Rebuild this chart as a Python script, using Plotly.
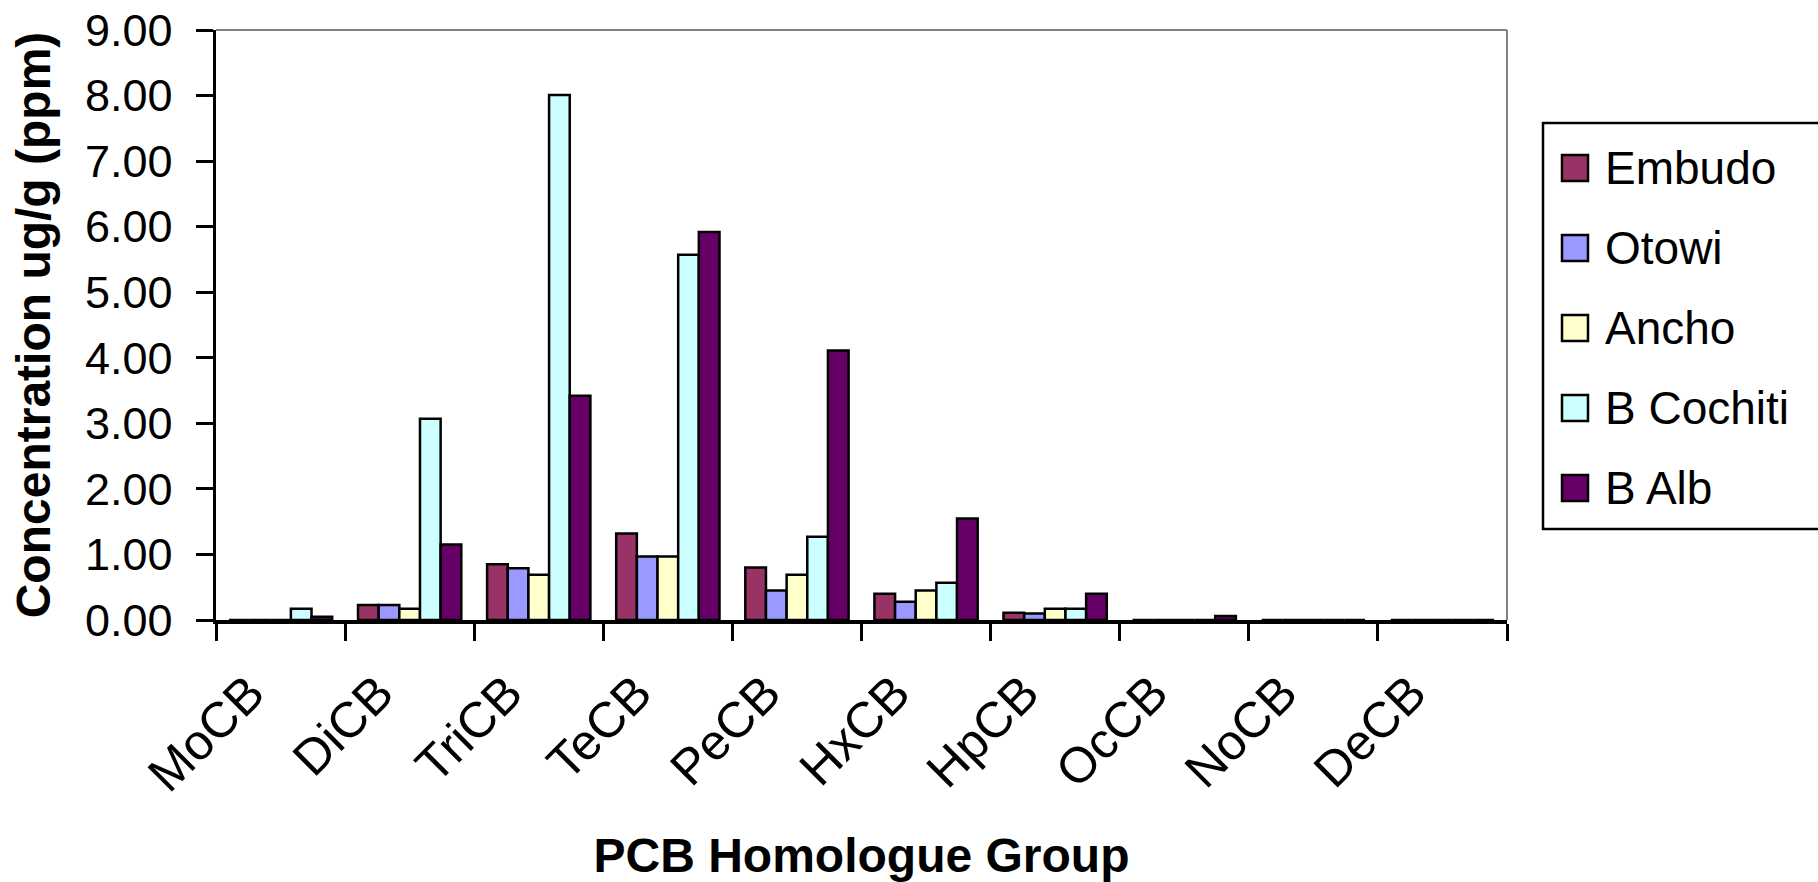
import plotly.graph_objects as go

categories = ["MoCB", "DiCB", "TriCB", "TeCB", "PeCB", "HxCB", "HpCB", "OcCB", "NoCB", "DeCB"]
series_names = ["Embudo", "Otowi", "Ancho", "B Cochiti", "B Alb"]
embudo = [0, 0.23, 0.85, 1.32, 0.80, 0.40, 0.11, 0, 0, 0]
otowi = [0, 0.23, 0.79, 0.97, 0.45, 0.28, 0.10, 0, 0, 0]
ancho = [0, 0.17, 0.69, 0.97, 0.69, 0.45, 0.17, 0, 0, 0]
b_cochiti = [0.17, 3.07, 8.01, 5.57, 1.27, 0.57, 0.17, 0, 0, 0]
b_alb = [0.05, 1.15, 3.42, 5.92, 4.11, 1.55, 0.40, 0.06, 0, 0]
colors = ["#993366", "#9999FF", "#FFFFCC", "#CCFFFF", "#660066"]
y_ticks = [0, 1, 2, 3, 4, 5, 6, 7, 8, 9]

W, H = 1818, 882
ML, MT = 216, 30
PW, PH = 1291, 590
MR, MB = W - ML - PW, H - MT - PH
FONT = "Arial, Liberation Sans, sans-serif"


def px_x(px):
    # screen pixel -> paper x
    return (px - ML) / PW


def px_y(py):
    # screen pixel -> paper y
    return (MT + PH - py) / PH


fig = go.Figure()
for name, vals, col in zip(series_names, [embudo, otowi, ancho, b_cochiti, b_alb], colors):
    fig.add_trace(go.Bar(
        x=categories, y=vals, name=name,
        marker=dict(color=col, line=dict(color="black", width=2.5)),
        showlegend=False,
    ))

shapes = [
    # gray top and right plot border
    dict(type="line", xref="paper", yref="paper", x0=0, x1=1, y0=1, y1=1,
         line=dict(color="#808080", width=2), layer="below"),
    dict(type="line", xref="paper", yref="paper", x0=1, x1=1, y0=0, y1=1,
         line=dict(color="#808080", width=2), layer="below"),
    # legend box
    dict(type="rect", xref="paper", yref="paper",
         x0=px_x(1543), x1=px_x(1840), y0=px_y(123), y1=px_y(529),
         line=dict(color="black", width=2.5), fillcolor="white"),
]
annotations = []
sq = 26
for i, (name, col) in enumerate(zip(series_names, colors)):
    cy = 168 + 80 * i
    shapes.append(dict(type="rect", xref="paper", yref="paper",
                       x0=px_x(1562), x1=px_x(1562 + sq),
                       y0=px_y(cy - sq / 2), y1=px_y(cy + sq / 2),
                       fillcolor=col, line=dict(color="black", width=2.5)))
    annotations.append(dict(xref="paper", yref="paper", x=px_x(1603), y=px_y(cy),
                            xanchor="left", yanchor="middle", showarrow=False,
                            text=name, font=dict(family=FONT, size=46, color="black")))

fig.update_layout(
    width=W, height=H,
    margin=dict(l=ML, r=MR, t=MT, b=MB, autoexpand=False),
    paper_bgcolor="white", plot_bgcolor="white",
    barmode="group", bargap=0.2, bargroupgap=0,
    font=dict(family=FONT, color="black"),
    shapes=shapes, annotations=annotations,
    hovermode=False,
    xaxis=dict(
        type="category", showgrid=False, zeroline=False,
        showline=True, linecolor="black", linewidth=3.5,
        ticks="outside", tickson="boundaries", ticklen=17, tickwidth=3, tickcolor="black",
        tickangle=-45, tickfont=dict(family=FONT, size=50, color="black"),
        ticklabelshift=-31, ticklabelstandoff=20,
        title=dict(text="PCB Homologue Group",
                   font=dict(family=FONT, size=48, color="black", weight="bold"),
                   standoff=45),
    ),
    yaxis=dict(
        range=[0, 9], tickvals=y_ticks, tickformat=".2f",
        showgrid=False, zeroline=False,
        showline=True, linecolor="black", linewidth=3.5,
        ticks="outside", ticklen=17, tickwidth=3, tickcolor="black",
        tickfont=dict(family=FONT, size=45, color="black"),
        ticklabelstandoff=14, ticklabeloverflow="allow",
        title=dict(text="Concentration ug/g (ppm)",
                   font=dict(family=FONT, size=48, color="black", weight="bold"),
                   standoff=20),
    ),
)

# remove the browser's default 8px page margin so the figure fills the window exactly
fig.write_html("out.html",
               config={"displayModeBar": False, "staticPlot": True},
               post_script="document.body.style.margin='0';document.body.style.overflow='hidden';")
